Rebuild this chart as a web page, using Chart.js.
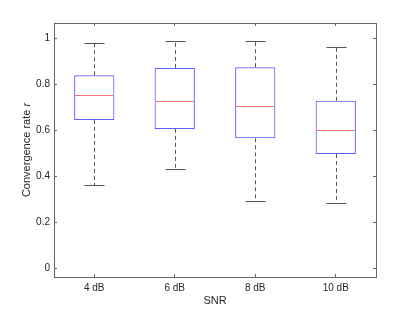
<!DOCTYPE html>
<html>
<head>
<meta charset="utf-8">
<script src="https://cdn.jsdelivr.net/npm/chart.js@4/dist/chart.umd.min.js"></script>
<style>
    html, body { margin: 0; padding: 0; background: #fff; }
    #wrap { width: 415px; height: 312px; }
</style>
</head>
<body>
<div id="wrap"><canvas id="box"></canvas></div>
<script>
// SNR groups and box statistics
const labels = ['4 dB', '6 dB', '8 dB', '10 dB'];
const whiskerLow = [0.361, 0.433, 0.291, 0.284];
const q1 = [0.645, 0.606, 0.565, 0.497];
const median = [0.754, 0.728, 0.706, 0.603];
const q3 = [0.839, 0.871, 0.874, 0.728];
const whiskerHigh = [0.981, 0.986, 0.986, 0.960];
const yTicks = [0, 0.2, 0.4, 0.6, 0.8, 1];

const frameColor = '#666666';
const textColor = '#262626';
const font = { family: '"Liberation Sans", Arial, sans-serif', size: 10 };

const fixSize = (size) => (scale) => {
    if (scale.isHorizontal()) {
        scale.height = size;
    } else {
        scale.width = size;
    }
};

// whiskers, caps and medians on top of the floating bars
const boxExtras = {
    id: 'boxExtras',
    afterDatasetsDraw(chart) {
        const ctx = chart.ctx;
        const y = chart.scales.y;
        const meta = chart.getDatasetMeta(0);
        const line = (x1, y1, x2, y2) => {
            ctx.beginPath();
            ctx.moveTo(x1, y1);
            ctx.lineTo(x2, y2);
            ctx.stroke();
        };
        ctx.save();
        ctx.lineWidth = 1;
        meta.data.forEach((bar, i) => {
            const cx = Math.round(bar.x) + 0.5;
            const half = bar.width / 2;
            const capHalf = half / 2;
            ctx.strokeStyle = '#555555';
            ctx.setLineDash([4, 3]);
            line(cx, y.getPixelForValue(q3[i]), cx, y.getPixelForValue(whiskerHigh[i]));
            line(cx, y.getPixelForValue(q1[i]), cx, y.getPixelForValue(whiskerLow[i]));
            ctx.setLineDash([]);
            const yh = Math.round(y.getPixelForValue(whiskerHigh[i])) + 0.5;
            const yl = Math.round(y.getPixelForValue(whiskerLow[i])) + 0.5;
            line(cx - capHalf, yh, cx + capHalf, yh);
            line(cx - capHalf, yl, cx + capHalf, yl);
            ctx.strokeStyle = '#ff6e6e';
            const ym = Math.round(y.getPixelForValue(median[i])) + 0.5;
            line(bar.x - half + 1, ym, bar.x + half - 1, ym);
        });
        ctx.restore();
    }
};

// y title with the italic r
const yTitle = {
    id: 'yTitle',
    afterDraw(chart) {
        const ctx = chart.ctx;
        const area = chart.chartArea;
        const main = 'Convergence rate ';
        const sym = 'r';
        ctx.save();
        ctx.fillStyle = textColor;
        ctx.textBaseline = 'middle';
        ctx.font = '11px "Liberation Sans", Arial, sans-serif';
        const w1 = ctx.measureText(main).width;
        ctx.font = 'italic 11px "Liberation Sans", Arial, sans-serif';
        const w2 = ctx.measureText(sym).width;
        ctx.translate(26.5, (area.top + area.bottom) / 2);
        ctx.rotate(-Math.PI / 2);
        const start = -(w1 + w2) / 2;
        ctx.font = '11px "Liberation Sans", Arial, sans-serif';
        ctx.fillText(main, start, 0);
        ctx.font = 'italic 11px "Liberation Sans", Arial, sans-serif';
        ctx.fillText(sym, start + w1, 0);
        ctx.restore();
    }
};

new Chart(document.getElementById('box'), {
    type: 'bar',
    data: {
        labels: labels,
        datasets: [{
            data: labels.map((_, i) => [q1[i], q3[i]]),
            backgroundColor: 'rgba(0,0,0,0)',
            borderColor: '#5c5cff',
            borderWidth: 1,
            borderSkipped: false,
            barPercentage: 0.5,
            categoryPercentage: 1
        }]
    },
    options: {
        responsive: true,
        maintainAspectRatio: false,
        animation: false,
        layout: { padding: 0 },
        plugins: {
            legend: { display: false },
            tooltip: { enabled: false }
        },
        scales: {
            x: {
                type: 'category',
                position: 'bottom',
                offset: true,
                afterFit: fixSize(35),
                grid: { offset: false, drawOnChartArea: false, tickLength: -3, color: frameColor },
                border: { color: frameColor },
                ticks: { padding: 8, font: font, color: textColor, maxRotation: 0 },
                title: {
                    display: true,
                    text: 'SNR',
                    color: textColor,
                    font: { family: font.family, size: 11 },
                    padding: { top: 0, bottom: 4 }
                }
            },
            x2: {
                type: 'category',
                position: 'top',
                offset: true,
                afterFit: fixSize(23),
                grid: { offset: false, drawOnChartArea: false, tickLength: -3, color: frameColor },
                border: { color: frameColor },
                ticks: { display: false }
            },
            y: {
                type: 'linear',
                position: 'left',
                min: -0.0375,
                max: 1.066,
                afterFit: fixSize(54),
                afterBuildTicks: (scale) => { scale.ticks = yTicks.map(v => ({ value: v })); },
                grid: { drawOnChartArea: false, tickLength: -3, color: frameColor },
                border: { color: frameColor },
                ticks: {
                    padding: 7,
                    font: font,
                    color: textColor,
                    callback: (v) => String(Math.round(v * 10) / 10)
                }
            },
            y2: {
                type: 'linear',
                position: 'right',
                min: -0.0375,
                max: 1.066,
                afterFit: fixSize(39),
                afterBuildTicks: (scale) => { scale.ticks = yTicks.map(v => ({ value: v })); },
                grid: { drawOnChartArea: false, tickLength: -3, color: frameColor },
                border: { color: frameColor },
                ticks: { display: false }
            }
        }
    },
    plugins: [boxExtras, yTitle]
});
</script>
</body>
</html>
